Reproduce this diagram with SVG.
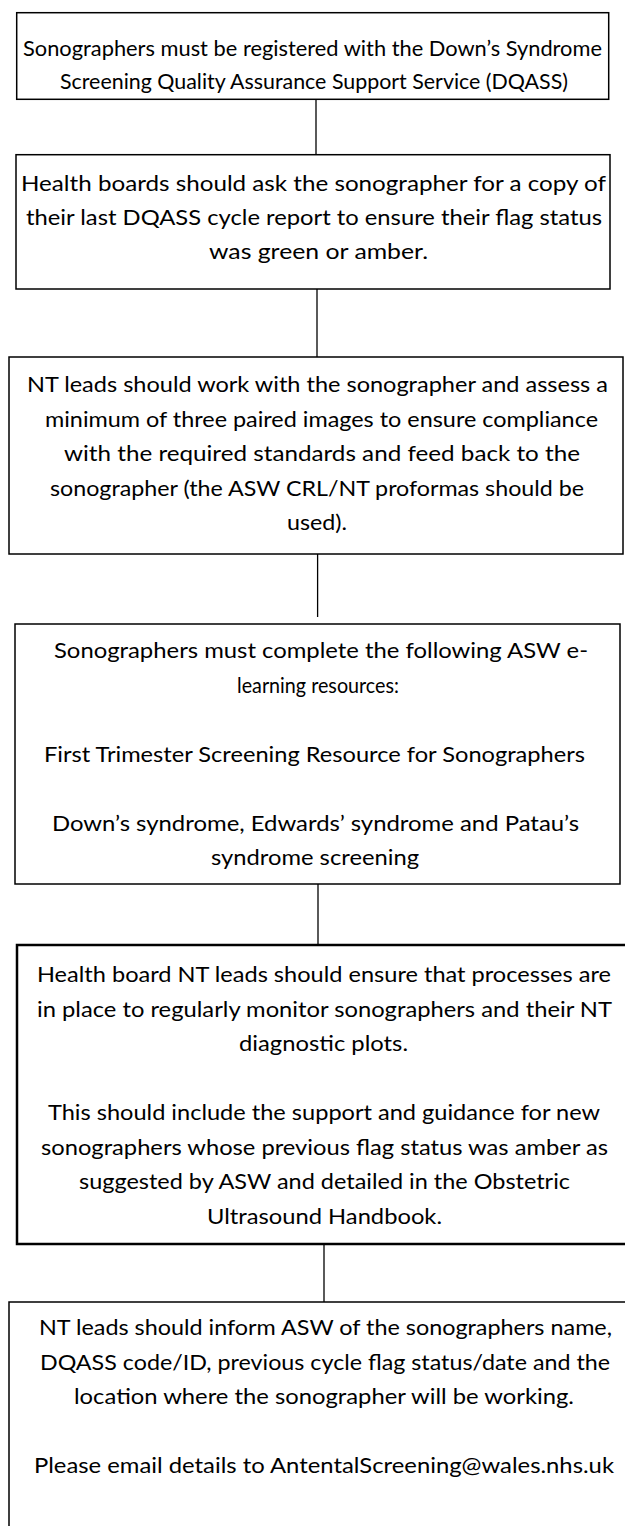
<svg xmlns="http://www.w3.org/2000/svg" width="625" height="1526" viewBox="0 0 625 1526">
<style>
.box{fill:#fff;stroke:#000;stroke-width:1.5}
.thick{stroke-width:2.5}
.t{font-family:Lato,"Open Sans","Liberation Sans",sans-serif;font-size:22px;fill:#000}
.conn{stroke:#000;stroke-width:1.3;fill:none}
</style>
<rect width="625" height="1526" fill="#fff"/>
<g id="connectors">
<line class="conn" x1="316" y1="99.3" x2="316" y2="154.7"/>
<line class="conn" x1="317" y1="289" x2="317" y2="357"/>
<line class="conn" x1="317.6" y1="554" x2="317.6" y2="617"/>
<line class="conn" x1="318" y1="884" x2="318" y2="945"/>
<line class="conn" x1="324" y1="1244" x2="324" y2="1302"/>
</g>
<g id="node1">
<rect class="box" x="16.7" y="12.7" width="592" height="86.6"/>
<text class="t" lengthAdjust="spacingAndGlyphs" x="23" y="56" textLength="579">Sonographers must be registered with the Down’s Syndrome</text>
<text class="t" lengthAdjust="spacingAndGlyphs" x="60" y="89" textLength="508">Screening Quality Assurance Support Service (DQASS)</text>
</g>
<g id="node2">
<rect class="box" x="16" y="154.7" width="594" height="134.3"/>
<text class="t" lengthAdjust="spacingAndGlyphs" x="21" y="190.5" textLength="585">Health boards should ask the sonographer for a copy of</text>
<text class="t" lengthAdjust="spacingAndGlyphs" x="26" y="224.5" textLength="576">their last DQASS cycle report to ensure their flag status</text>
<text class="t" lengthAdjust="spacingAndGlyphs" x="209" y="258.5" textLength="219">was green or amber.</text>
</g>
<g id="node3">
<rect class="box" x="9" y="357" width="614" height="197"/>
<text class="t" lengthAdjust="spacingAndGlyphs" x="27" y="392" textLength="581">NT leads should work with the sonographer and assess a</text>
<text class="t" lengthAdjust="spacingAndGlyphs" x="45" y="426.5" textLength="553">minimum of three paired images to ensure compliance</text>
<text class="t" lengthAdjust="spacingAndGlyphs" x="64" y="461" textLength="516">with the required standards and feed back to the</text>
<text class="t" lengthAdjust="spacingAndGlyphs" x="50" y="495.5" textLength="534">sonographer (the ASW CRL/NT proformas should be</text>
<text class="t" lengthAdjust="spacingAndGlyphs" x="287" y="530" textLength="60">used).</text>
</g>
<g id="node4">
<rect class="box" x="15" y="624" width="605" height="260"/>
<text class="t" lengthAdjust="spacingAndGlyphs" x="54" y="658" textLength="534">Sonographers must complete the following ASW e-</text>
<text class="t" lengthAdjust="spacingAndGlyphs" x="237" y="692.5" textLength="162">learning resources:</text>
<text class="t" lengthAdjust="spacingAndGlyphs" x="44" y="761.5" textLength="541">First Trimester Screening Resource for Sonographers</text>
<text class="t" lengthAdjust="spacingAndGlyphs" x="52" y="830.5" textLength="527">Down’s syndrome, Edwards’ syndrome and Patau’s</text>
<text class="t" lengthAdjust="spacingAndGlyphs" x="211" y="865" textLength="208">syndrome screening</text>
</g>
<g id="node5">
<rect class="box thick" x="17" y="945" width="620" height="299"/>
<text class="t" lengthAdjust="spacingAndGlyphs" x="37" y="982" textLength="574">Health board NT leads should ensure that processes are</text>
<text class="t" lengthAdjust="spacingAndGlyphs" x="37" y="1016.5" textLength="575">in place to regularly monitor sonographers and their NT</text>
<text class="t" lengthAdjust="spacingAndGlyphs" x="239" y="1051" textLength="169">diagnostic plots.</text>
<text class="t" lengthAdjust="spacingAndGlyphs" x="48" y="1120" textLength="552">This should include the support and guidance for new</text>
<text class="t" lengthAdjust="spacingAndGlyphs" x="41" y="1154.5" textLength="567">sonographers whose previous flag status was amber as</text>
<text class="t" lengthAdjust="spacingAndGlyphs" x="79" y="1189" textLength="491">suggested by ASW and detailed in the Obstetric</text>
<text class="t" lengthAdjust="spacingAndGlyphs" x="207" y="1223.5" textLength="235">Ultrasound Handbook.</text>
</g>
<g id="node6">
<rect class="box" x="9" y="1302" width="630" height="240"/>
<text class="t" lengthAdjust="spacingAndGlyphs" x="39" y="1335" textLength="573">NT leads should inform ASW of the sonographers name,</text>
<text class="t" lengthAdjust="spacingAndGlyphs" x="40" y="1369.5" textLength="570">DQASS code/ID, previous cycle flag status/date and the</text>
<text class="t" lengthAdjust="spacingAndGlyphs" x="74" y="1404" textLength="500">location where the sonographer will be working.</text>
<text class="t" lengthAdjust="spacingAndGlyphs" x="34" y="1473" textLength="580">Please email details to AntentalScreening@wales.nhs.uk</text>
</g>
</svg>
